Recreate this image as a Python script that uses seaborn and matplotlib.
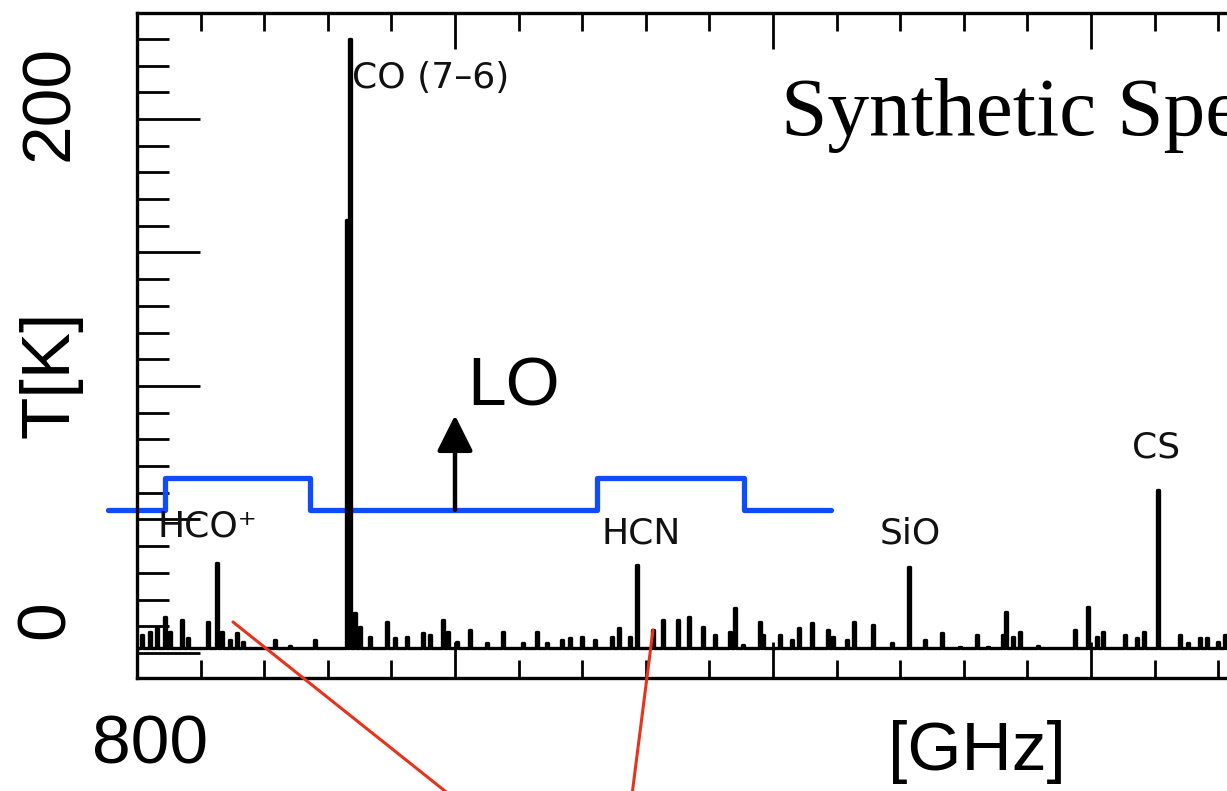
import numpy as np
import matplotlib
matplotlib.use("Agg")
import matplotlib.pyplot as plt
import seaborn as sns
from matplotlib.ticker import MultipleLocator, NullFormatter
from matplotlib.lines import Line2D

# ---------------- data ----------------
line_names = ["HCO⁺", "CO (7–6)", "HCN", "SiO", "CS"]
line_freqs = [802.52, 806.70, 815.72, 824.28, 832.11]   # GHz
line_temps = [33.7, 230.0, 33.0, 32.2, 61.0]            # K

co_wing_freqs = [806.60]
co_wing_temps = [162.0]

noise_freqs = [800.16, 800.41, 800.63, 800.88, 801.04, 801.42, 801.60, 802.23,
               802.67, 802.92, 803.14, 803.33, 804.34, 804.81, 805.60, 806.86,
               807.01, 807.33, 807.86, 808.11, 808.49, 808.99, 809.21, 809.62,
               809.78, 810.06, 810.47, 811.01, 811.51, 812.14, 812.58, 812.89,
               813.36, 813.62, 813.99, 814.40, 814.94, 815.16, 815.50, 816.23,
               816.54, 817.01, 817.36, 817.80, 818.18, 818.65, 818.81, 819.06,
               819.59, 819.69, 820.22, 820.60, 820.82, 821.23, 821.73, 821.89,
               822.33, 822.55, 823.14, 823.74, 824.78, 825.31, 825.88, 826.42,
               826.76, 827.23, 827.33, 827.55, 827.77, 828.33, 829.50, 829.91,
               830.19, 830.38, 831.07, 831.45, 831.67, 832.80, 833.05, 833.43,
               833.65, 833.99, 834.21]
noise_temps = [6.7, 7.9, 9.4, 13.5, 7.9, 12.4, 5.6, 11.6,
               7.9, 4.9, 7.5, 4.1, 4.9, 2.6, 4.9, 15.0,
               9.7, 6.0, 11.6, 5.6, 6.0, 7.5, 6.7, 12.4,
               7.9, 4.1, 8.6, 3.7, 7.9, 3.7, 7.9, 3.7,
               4.9, 5.6, 6.0, 4.9, 6.0, 9.4, 6.0, 8.6,
               12.4, 12.4, 13.5, 9.7, 6.7, 7.9, 16.9, 3.0,
               11.6, 6.7, 6.7, 4.9, 9.4, 11.2, 8.6, 6.0,
               4.9, 11.6, 10.5, 3.7, 4.9, 7.5, 2.2, 6.7,
               2.2, 6.7, 15.4, 6.0, 7.9, 2.6, 8.6, 17.2,
               6.0, 7.9, 6.7, 5.6, 7.9, 6.7, 3.7, 5.6,
               5.6, 4.1, 6.7]

baseline_temp = 1.9
channel_width = 0.05

lo_freq = 810.0
lo_arrow_temps = [53.6, 89.0]
lo_band_freqs = [799.09, 800.88, 800.88, 805.44, 805.44, 814.47, 814.47, 819.09, 819.09, 821.82]
lo_band_temps = [53.6, 53.6, 65.5, 65.5, 53.6, 53.6, 65.5, 65.5, 53.6, 53.6]

x_range = [800, 840]
y_range = [-9.4, 239.7]

# ---------------- style ----------------
sns.set_style("white")
plt.rcParams["font.family"] = ["Liberation Sans", "DejaVu Sans"]

W, H = 1227, 791
fig = plt.figure(figsize=(W / 100, H / 100), dpi=100)
ax = fig.add_axes([137 / W, 1 - 678 / H, 1272 / W, 665 / H])

# spectrum as a histogram-style trace built from the channel list
all_f = list(line_freqs) + list(co_wing_freqs) + list(noise_freqs)
all_t = list(line_temps) + list(co_wing_temps) + list(noise_temps)
order = np.argsort(all_f)
xs = [x_range[0] - 1]
ys = [baseline_temp]
hw = channel_width / 2
for i in order:
    f, t = all_f[i], all_t[i]
    xs += [f - hw, f - hw, f + hw, f + hw]
    ys += [baseline_temp, t, t, baseline_temp]
xs.append(x_range[1] + 1)
ys.append(baseline_temp)

sns.lineplot(x=xs, y=ys, sort=False, estimator=None, color="black",
             lw=2.4, ax=ax, zorder=3)

# LO band outline
sns.lineplot(x=lo_band_freqs, y=lo_band_temps, sort=False, estimator=None,
             color="#0f4cff", lw=3.8, ax=ax, zorder=2, clip_on=False)

# LO arrow
ax.annotate("", xy=(lo_freq, lo_arrow_temps[1]), xytext=(lo_freq, lo_arrow_temps[0]),
            arrowprops=dict(arrowstyle="-|>,head_width=0.55,head_length=1.1",
                            lw=3.2, color="black", mutation_scale=20,
                            shrinkA=0, shrinkB=0), zorder=4)

ax.set_xlim(*x_range)
ax.set_ylim(*y_range)

ax.xaxis.set_major_locator(MultipleLocator(10))
ax.xaxis.set_minor_locator(MultipleLocator(2))
ax.yaxis.set_major_locator(MultipleLocator(50))
ax.yaxis.set_minor_locator(MultipleLocator(10))
ax.xaxis.set_major_formatter(NullFormatter())
ax.yaxis.set_major_formatter(NullFormatter())

ax.tick_params(axis="x", which="both", direction="in", top=True, bottom=True,
               width=2.0, color="black", labelbottom=False, labeltop=False)
ax.tick_params(axis="x", which="major", length=26)
ax.tick_params(axis="x", which="minor", length=13)
ax.tick_params(axis="y", which="both", direction="in", left=True, right=False,
               width=2.0, color="black", labelleft=False)
ax.tick_params(axis="y", which="major", length=45)
ax.tick_params(axis="y", which="minor", length=23)

for s in ["left", "bottom", "top"]:
    ax.spines[s].set_visible(True)
    ax.spines[s].set_linewidth(2.4)
    ax.spines[s].set_color("black")
ax.spines["right"].set_visible(False)
ax.set_xlabel("")
ax.set_ylabel("")

# line labels (inside the plot)
lab_font = dict(family=["DejaVu Sans"], fontsize=26, color="#111111")
ax.text(806.76, 215.4, "CO (7–6)", ha="left", va="center", **lab_font)
ax.text(800.63, 47.2, "HCO⁺", ha="left", va="center", zorder=5, **lab_font)
ax.text(815.85, 44.9, "HCN", ha="center", va="center", **lab_font)
ax.text(824.31, 44.9, "SiO", ha="center", va="center", **lab_font)
ax.text(832.04, 76.8, "CS", ha="center", va="center", **lab_font)

# slide overlay texts
def fx(px):
    return px / W

def fy(py):
    return 1 - py / H

big = dict(family=["Liberation Sans", "DejaVu Sans"], fontsize=50, color="black")
fig.text(fx(467), fy(405), "LO", ha="left", va="baseline", **big)
fig.text(fx(50), fy(103), "200", ha="center", va="center", rotation=90, **big)
fig.text(fx(46), fy(620), "0", ha="center", va="center", rotation=90, **big)
fig.text(fx(50), fy(374), "T[K]", ha="center", va="center", rotation=90, **big)
fig.text(fx(150), fy(745), "800", ha="center", va="center", **big)
fig.text(fx(977), fy(752), "[GHz]", ha="center", va="center", **big)
fig.text(fx(781), fy(135), "Synthetic Spectrum", ha="left", va="baseline",
         family=["Liberation Serif", "DejaVu Serif"], fontsize=60, color="black")

# red pointer lines
red = "#e8331c"
fig.add_artist(Line2D([fx(233), fx(450)], [fy(622), fy(795)], transform=fig.transFigure,
                      color=red, lw=2.2, zorder=6))
fig.add_artist(Line2D([fx(653), fx(632)], [fy(630), fy(795)], transform=fig.transFigure,
                      color=red, lw=2.2, zorder=6))

fig.savefig("out.png", dpi=100)
